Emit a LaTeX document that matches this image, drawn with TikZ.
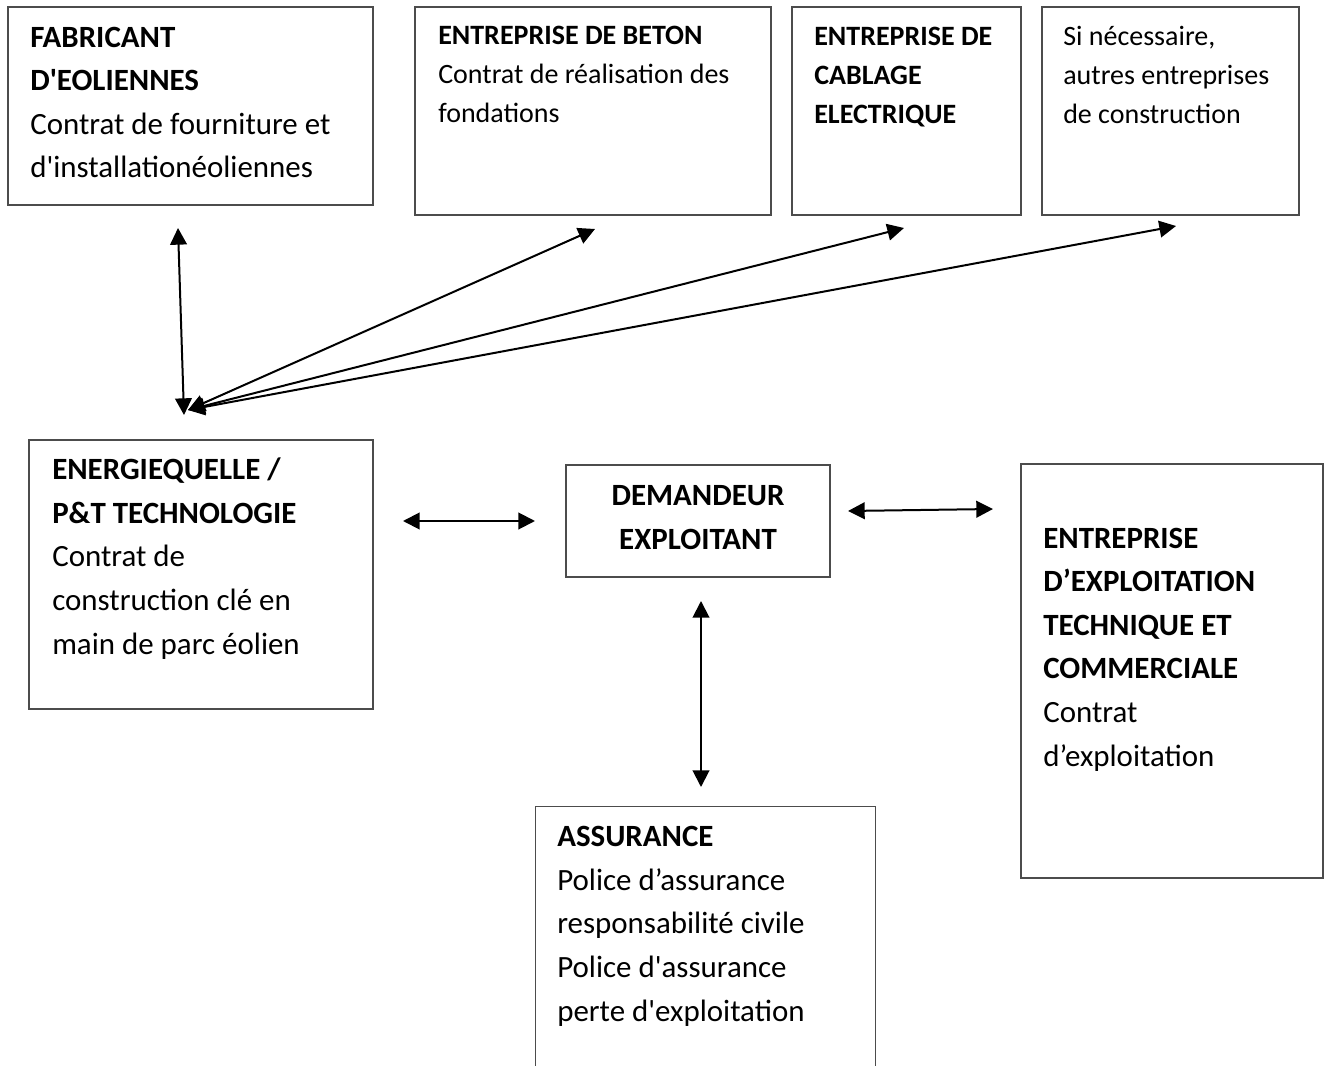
\documentclass[tikz,border=0pt]{standalone}
\usepackage{fontspec}
\setmainfont{Carlito}[Ligatures=TeXOff]
\usetikzlibrary{arrows.meta,fit}
\tikzset{
  box/.style={draw=black!70, line width=0.9pt, inner sep=0pt, fit={#1}},
  bigtxt/.style={inner sep=0pt, anchor=base west, align=left,
     font=\fontsize{23.2pt}{32.7pt}\selectfont},
  smalltxt/.style={inner sep=0pt, anchor=base west, align=left,
     font=\fontsize{21pt}{29.6pt}\selectfont},
  arr/.style={{Triangle[length=12.5pt,width=12.5pt]}-{Triangle[length=12.5pt,width=12.5pt]}, line width=1.5pt, black},
}
\begin{document}
\begin{tikzpicture}[x=0.75pt,y=-0.75pt]
\useasboundingbox (0,0) rectangle (1325,1066);
% boxes
\node[box={(8,7) (373,205)}] (fab) {};
\node[box={(415,7) (771,215)}] (beton) {};
\node[box={(792,7) (1021,215)}] (cab) {};
\node[box={(1042,7) (1299,215)}] (autres) {};
\node[box={(29,440) (373,709)}] (ener) {};
\node[box={(566,465) (830,577)}] (dem) {};
\node[box={(1021,464) (1323,878)}] (expl) {};
\node[inner sep=0pt, fit={(536,807) (875,1080)}] (ass) {};
\draw[draw=black!70, line width=0.9pt] (ass.south west) -- (ass.north west) -- (ass.north east) -- (ass.south east);
% texts (anchor = baseline of the last line)
\node[bigtxt] (fabT) at (30,178) {\textbf{FABRICANT}\\\textbf{D'EOLIENNES}\\Contrat de fourniture et\\d'installationéoliennes};
\node[smalltxt] (betonT) at (438,123) {\textbf{ENTREPRISE DE BETON}\\Contrat de réalisation des\\fondations};
\node[smalltxt] (cabT) at (814,124) {\textbf{ENTREPRISE DE}\\\textbf{CABLAGE}\\\textbf{ELECTRIQUE}};
\node[smalltxt] (autresT) at (1063,124) {Si nécessaire,\\autres entreprises\\de construction};
\node[bigtxt] (enerT) at (52,654) {\textbf{ENERGIEQUELLE /}\\\textbf{P\&T TECHNOLOGIE}\\Contrat de\\construction clé en\\main de parc éolien};
\node[bigtxt, anchor=base, align=center] (demT) at (698,549.5) {\textbf{DEMANDEUR}\\\textbf{EXPLOITANT}};
\node[bigtxt] (explT) at (1043,766) {\textbf{ENTREPRISE}\\\textbf{D’EXPLOITATION}\\\textbf{TECHNIQUE ET}\\\textbf{COMMERCIALE}\\Contrat\\d’exploitation};
\node[bigtxt] (assT) at (557,1021) {\textbf{ASSURANCE}\\Police d’assurance\\responsabilité civile\\Police d'assurance\\perte d'exploitation};
% connector end points
\coordinate (fabE) at (178,228);
\coordinate (hubV) at (184,415);
\coordinate (hub) at (188,410);
\coordinate (betonE) at (595,229);
\coordinate (cabE) at (904,228);
\coordinate (autresE) at (1176,226);
\coordinate (enerE) at (403,521);
\coordinate (demL) at (535,521);
\coordinate (demR) at (848,511);
\coordinate (explE) at (993,509);
\coordinate (demB) at (701,601);
\coordinate (assE) at (701,787);
% connectors
\draw[arr] (fabE) -- (hubV);
\draw[arr] (hub) -- (betonE);
\draw[arr] (hub) -- (cabE);
\draw[arr] (hub) -- (autresE);
\draw[arr] (enerE) -- (demL);
\draw[arr] (demR) -- (explE);
\draw[arr] (demB) -- (assE);
\end{tikzpicture}
\end{document}
